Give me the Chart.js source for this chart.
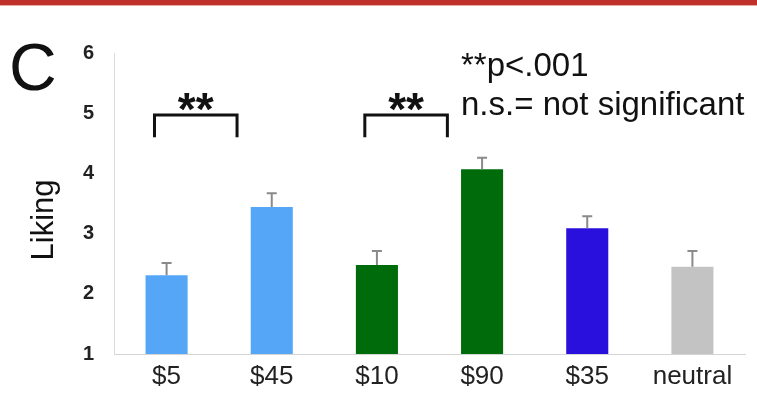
<!DOCTYPE html>
<html>
<head>
<meta charset="utf-8">
<script src="https://cdn.jsdelivr.net/npm/chart.js@4"></script>
<style>
  html, body { margin: 0; padding: 0; background: #fff; }
  #topbar { position: absolute; left: 0; top: 0; width: 757px; height: 5px; background: #c0302a; border-bottom: 1px solid #e7a9a4; }
  #wrap { width: 757px; height: 400px; }
</style>
</head>
<body>
<div id="topbar"></div>
<div id="wrap"><canvas id="myChart" width="757" height="400"></canvas></div>
<script>
// liking ratings per price condition
const labels = ['$5', '$45', '$10', '$90', '$35', 'neutral']
const liking = [2.31, 3.44, 2.48, 4.07, 3.09, 2.45]
const errors = [0.20, 0.23, 0.23, 0.19, 0.20, 0.26]
const colors = ['#55a6f7', '#55a6f7', '#006b0a', '#006b0a', '#2a10dc', '#c3c3c3']
const yTicks = [1, 2, 3, 4, 5, 6]
// significance brackets: [left category, right category]
const brackets = [[0, 1], [2, 3]]

const extras = {
  id: 'extras',
  afterDatasetsDraw(chart) {
    const ctx = chart.ctx
    const x = chart.scales.x
    const y = chart.scales.y
    ctx.save()

    // error bars
    ctx.strokeStyle = '#8a8a8a'
    ctx.lineWidth = 2
    for (let i = 0; i < liking.length; i++) {
      let cx = x.getPixelForValue(i)
      let y0 = y.getPixelForValue(liking[i])
      let y1 = y.getPixelForValue(liking[i] + errors[i])
      ctx.beginPath()
      ctx.moveTo(cx, y0)
      ctx.lineTo(cx, y1)
      ctx.moveTo(cx - 5, y1)
      ctx.lineTo(cx + 5, y1)
      ctx.stroke()
    }

    // brackets with stars
    ctx.strokeStyle = '#111'
    ctx.lineWidth = 3
    ctx.fillStyle = '#111'
    ctx.font = 'bold 46px "Liberation Sans", Arial, sans-serif'
    ctx.textAlign = 'center'
    ctx.textBaseline = 'alphabetic'
    for (let i = 0; i < brackets.length; i++) {
      let l = x.getPixelForValue(brackets[i][0] - 0.115)
      let r = x.getPixelForValue(brackets[i][1] - 0.33)
      let top = y.getPixelForValue(4.97)
      let bot = y.getPixelForValue(4.6)
      ctx.beginPath()
      ctx.moveTo(l, bot)
      ctx.lineTo(l, top)
      ctx.lineTo(r, top)
      ctx.lineTo(r, bot)
      ctx.stroke()
      ctx.fillText('**', (l + r) / 2, top + 10)
    }

    // panel letter and notes
    ctx.textAlign = 'left'
    ctx.font = '66px "Liberation Sans", Arial, sans-serif'
    ctx.fillText('C', 9, 90)
    ctx.font = '33px "Liberation Sans", Arial, sans-serif'
    ctx.fillText('**p<.001', 461, 76)
    ctx.fillText('n.s.= not significant', 461, 115)

    // axis title
    ctx.save()
    ctx.translate(53, 220)
    ctx.rotate(-Math.PI / 2)
    ctx.textAlign = 'center'
    ctx.font = '31px "Liberation Sans", Arial, sans-serif'
    ctx.fillText('Liking', 0, 0)
    ctx.restore()

    ctx.restore()
  }
}

new Chart(document.getElementById('myChart'), {
  type: 'bar',
  data: {
    labels,
    datasets: [{
      data: liking,
      backgroundColor: colors,
      borderWidth: 0,
      barPercentage: 0.4,
      categoryPercentage: 1
    }]
  },
  options: {
    responsive: false,
    animation: false,
    layout: { padding: { top: 53, right: 12, left: 0, bottom: 0 } },
    plugins: { legend: { display: false }, tooltip: { enabled: false } },
    scales: {
      x: {
        grid: { display: false, drawTicks: false },
        border: { color: '#d4d4d4', width: 1 },
        ticks: { color: '#222', padding: 7, font: { family: '"Liberation Sans", Arial', size: 26 } },
        afterFit(scale) { scale.height = 46 }
      },
      y: {
        min: 1,
        max: 6,
        grid: { display: false },
        border: { color: '#dcdcdc', width: 1 },
        ticks: {
          color: '#222',
          padding: 12,
          font: { family: '"Liberation Sans", Arial', size: 20, weight: 'bold' },
          callback: (v) => yTicks.includes(v) ? v : null
        },
        afterFit(scale) { scale.width = 114 }
      }
    }
  },
  plugins: [extras]
})
</script>
</body>
</html>
